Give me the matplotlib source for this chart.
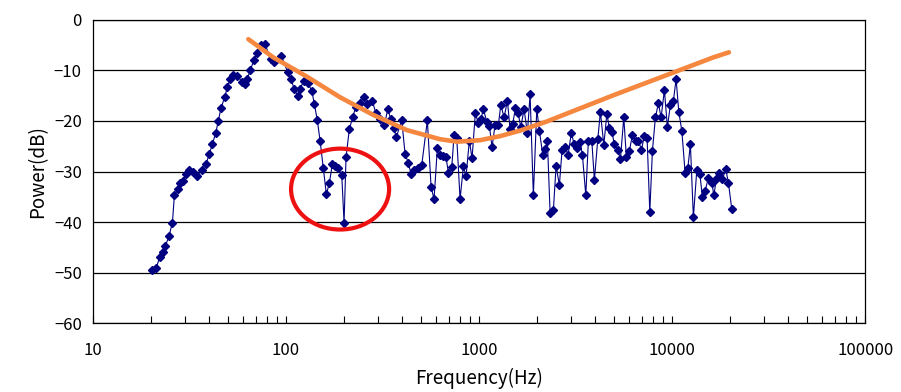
import numpy as np
import matplotlib
matplotlib.use("Agg")
import matplotlib.pyplot as plt
from matplotlib.patches import Ellipse
from matplotlib.ticker import LogLocator, FixedLocator, NullFormatter

plt.rcParams['font.family'] = ['Noto Sans CJK JP', 'DejaVu Sans']

# measured spectrum (Hz, dB)
freq = [20.1, 21.2, 22.2, 23.0, 23.7, 24.8, 25.8, 26.4, 27.5, 28.2,
        29.2, 30.3, 31.6, 32.9, 34.7, 36.6, 38.5, 40.1, 41.5, 43.2,
        44.6, 46.0, 48.1, 49.7, 51.3, 53.3, 55.9, 59.2, 61.3, 63.0,
        65.3, 68.3, 71.0, 74.5, 77.9, 83.3, 86.7, 94.5, 102.0, 106.1,
        110.4, 115.0, 118.6, 123.5, 129.6, 135.9, 140.2, 145.3, 150.1, 156.1,
        161.8, 167.7, 173.8, 179.5, 186.7, 194.4, 199.8, 204.6, 212.8, 221.6,
        229.7, 241.8, 253.6, 263.8, 280.0, 291.6, 305.8, 323.1, 336.5, 349.9,
        361.4, 372.8, 397.7, 413.7, 430.3, 444.4, 462.2, 481.3, 504.8, 539.7,
        564.1, 584.6, 607.9, 627.8, 653.1, 674.5, 693.3, 722.0, 742.2, 766.5,
        797.3, 829.3, 856.3, 890.6, 919.7, 956.8, 988.1, 1020, 1053, 1096,
        1131, 1168, 1210, 1259, 1296, 1348, 1402, 1448, 1495, 1542,
        1593, 1645, 1711, 1780, 1838, 1911, 1991, 2053, 2138, 2206,
        2259, 2334, 2427, 2506, 2607, 2692, 2790, 2891, 3008, 3106,
        3231, 3337, 3430, 3572, 3684, 3837, 3958, 4121, 4252, 4428,
        4590, 4735, 4873, 5023, 5232, 5397, 5620, 5797, 6008, 6227,
        6485, 6690, 6933, 7186, 7421, 7664, 7907, 8194, 8492, 8770,
        9122, 9455, 9799, 10155, 10489, 10832, 11226, 11679, 12059, 12437,
        12891, 13427, 13915, 14355, 14825, 15420, 16060, 16448, 16965, 17520,
        18224, 18977, 19572, 20381]
power = [-49.5, -49.2, -46.9, -45.9, -44.8, -42.7, -40.1, -34.7, -33.5, -32.3,
         -31.8, -30.5, -29.7, -30.0, -30.8, -29.7, -28.5, -26.5, -24.6, -22.4,
         -20.0, -17.5, -15.3, -13.3, -11.7, -10.9, -11.1, -12.2, -12.7, -11.7,
         -9.9, -7.9, -6.5, -5.0, -4.8, -7.8, -8.3, -7.1, -10.3, -11.7,
         -13.7, -15.0, -13.6, -12.0, -12.5, -14.0, -16.6, -19.9, -23.9, -29.4,
         -34.5, -32.3, -28.5, -28.9, -29.4, -30.7, -40.1, -27.2, -21.6, -19.3,
         -17.2, -16.4, -15.2, -16.6, -16.0, -18.4, -19.7, -20.8, -17.7, -19.7,
         -21.4, -23.2, -19.8, -26.5, -28.3, -30.5, -29.7, -29.4, -28.7, -19.9,
         -33.0, -35.5, -25.4, -26.7, -26.9, -27.2, -30.2, -29.2, -22.8, -23.4,
         -35.5, -29.0, -30.9, -23.9, -27.4, -18.4, -20.3, -19.7, -17.7, -20.1,
         -21.0, -25.2, -20.8, -20.8, -16.8, -19.3, -16.0, -21.6, -20.5, -17.5,
         -18.4, -21.2, -17.7, -22.4, -14.7, -34.7, -17.7, -21.9, -26.7, -25.6,
         -23.9, -38.3, -37.6, -28.9, -32.7, -25.7, -25.1, -26.7, -22.3, -24.6,
         -25.4, -24.1, -26.7, -34.7, -23.9, -23.9, -31.7, -23.6, -18.2, -24.8,
         -18.6, -21.4, -22.1, -24.6, -25.7, -27.6, -19.3, -27.2, -25.9, -22.8,
         -23.9, -23.9, -25.7, -23.0, -23.4, -38.0, -25.9, -19.3, -16.5, -19.3,
         -13.9, -21.2, -16.8, -16.0, -11.7, -18.2, -21.9, -30.2, -29.4, -24.6,
         -39.1, -29.7, -30.4, -35.0, -33.8, -31.3, -32.2, -34.7, -31.5, -30.2,
         -31.5, -29.6, -32.2, -37.5]

# hand-drawn trend curve (Hz, dB)
trend_freq = [63.8, 85.9, 128.0, 190.5, 283.4, 422.1, 627.8, 766.5, 1012, 1285,
              1631, 2243, 3337, 4966, 7394, 11003, 16368, 19700]
trend_power = [-3.8, -7.4, -11.2, -15.3, -18.8, -21.8, -23.6, -24.1, -23.8, -23.0,
               -21.9, -20.1, -17.5, -14.9, -12.4, -9.9, -7.4, -6.4]

yticks = [0, -10, -20, -30, -40, -50, -60]
xticks = [10, 100, 1000, 10000, 100000]

fig = plt.figure(figsize=(9.01, 3.92), dpi=100)
ax = fig.add_axes([0.1032, 0.176, 0.857, 0.773])

for y in yticks:
    ax.axhline(y, color='black', lw=0.9, zorder=1)

ax.plot(freq, power, '-D', color='#000080', lw=0.8, ms=4.3, zorder=3)
ax.plot(trend_freq, trend_power, '-', color='#F5873F', lw=3.3,
        solid_capstyle='round', solid_joinstyle='round', zorder=4)

ax.set_xscale('log')
ax.set_xlim(10, 100000)
ax.set_ylim(-60, 0)
ax.set_yticks(yticks)
ax.set_yticklabels([str(v).replace('-', '\u2212') for v in yticks])
ax.xaxis.set_major_locator(FixedLocator(xticks))
ax.set_xticklabels([str(v) for v in xticks])
ax.xaxis.set_minor_locator(LogLocator(base=10, subs=np.arange(2, 10)))
ax.xaxis.set_minor_formatter(NullFormatter())
ax.tick_params(axis='x', which='both', direction='in', length=5, width=0.8,
               labelsize=12, pad=14)
ax.tick_params(axis='y', length=0, labelsize=12, pad=8)

for s in ax.spines.values():
    s.set_color('black')
    s.set_linewidth(0.9)

ax.set_xlabel('Frequency(Hz)', fontsize=13.5, labelpad=6)
ax.set_ylabel('Power(dB)', fontsize=13.5, labelpad=4)

# red circle around the dip
ax.add_patch(Ellipse((0.32, 0.442), 0.127, 0.267, transform=ax.transAxes,
                     fill=False, edgecolor='#EE1111', lw=3, zorder=5))

fig.savefig('out.png', dpi=100)
